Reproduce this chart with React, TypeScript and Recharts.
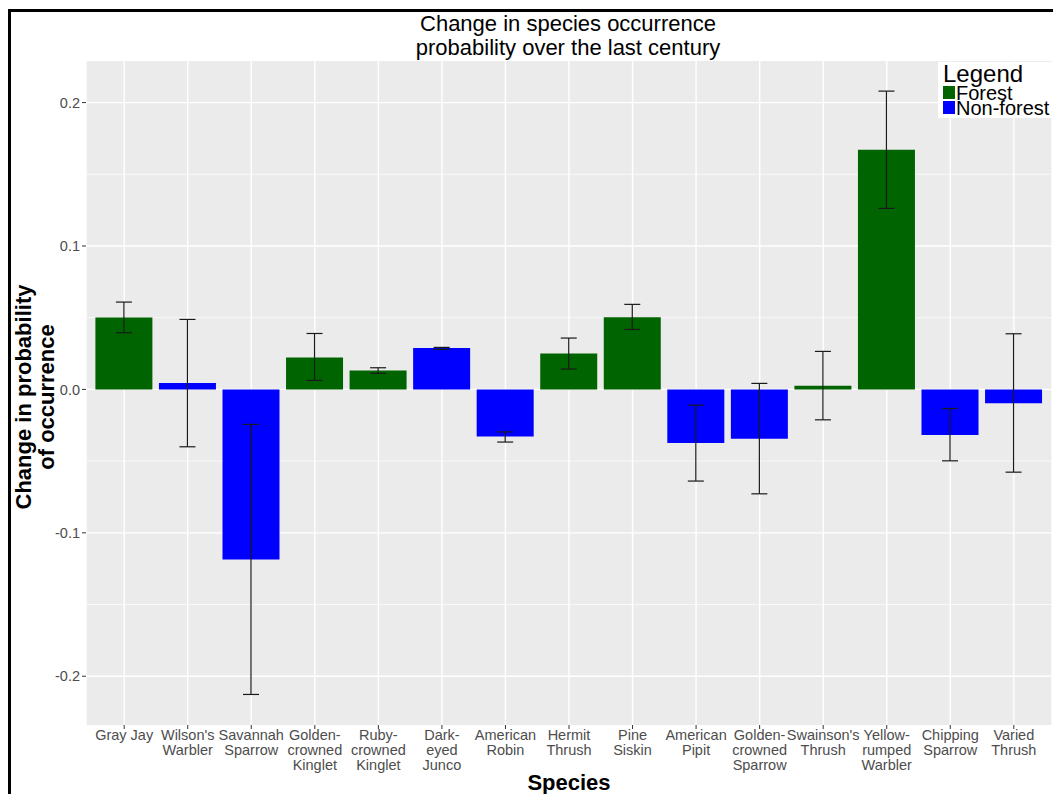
import { BarChart, Bar, XAxis, YAxis, CartesianGrid, ErrorBar, Cell, Legend } from 'recharts';

const FONT = '"Liberation Sans", Arial, Helvetica, sans-serif';

const species = [
  'Gray Jay',
  "Wilson's\nWarbler",
  'Savannah\nSparrow',
  'Golden-\ncrowned\nKinglet',
  'Ruby-\ncrowned\nKinglet',
  'Dark-\neyed\nJunco',
  'American\nRobin',
  'Hermit\nThrush',
  'Pine\nSiskin',
  'American\nPipit',
  'Golden-\ncrowned\nSparrow',
  "Swainson's\nThrush",
  'Yellow-\nrumped\nWarbler',
  'Chipping\nSparrow',
  'Varied\nThrush',
];

const habitat = [
  'Forest', 'Non-forest', 'Non-forest', 'Forest', 'Forest', 'Non-forest', 'Non-forest', 'Forest',
  'Forest', 'Non-forest', 'Non-forest', 'Forest', 'Forest', 'Non-forest', 'Non-forest',
];

// mean change and the lower / upper ends of each interval
const change = [0.0502, 0.0044, -0.1186, 0.0223, 0.0132, 0.0288, -0.0328, 0.0251, 0.0504, -0.0374, -0.0344, 0.0025, 0.1671, -0.0317, -0.0096];
const lower = [0.0395, -0.04, -0.2127, 0.0063, 0.0112, 0.0279, -0.0367, 0.0142, 0.0418, -0.0639, -0.0728, -0.0212, 0.1262, -0.0498, -0.0577];
const upper = [0.0609, 0.0488, -0.0244, 0.039, 0.0151, 0.0293, -0.0296, 0.0358, 0.0593, -0.011, 0.0042, 0.0265, 0.208, -0.0133, 0.0388];

const habitats = ['Forest', 'Non-forest'];
const habitatColors: Record<string, string> = { Forest: '#006400', 'Non-forest': '#0000FF' };

const yTicks = [-0.2, -0.1, 0, 0.1, 0.2];
const yMinor = [-0.15, -0.05, 0.05, 0.15];

const rows = species.map((name, i) => ({
  name,
  value: change[i],
  err: [change[i] - lower[i], upper[i] - change[i]],
  habitat: habitat[i],
}));

function SpeciesTick({ x, y, payload }: any) {
  const lines = String(payload.value).split('\n');
  return (
    <text x={x} y={y} textAnchor="middle" fill="#4D4D4D" fontSize={14.5} fontFamily={FONT}>
      {lines.map((line, i) => (
        <tspan key={i} x={x} dy={i === 0 ? 9 : 15}>
          {line}
        </tspan>
      ))}
    </text>
  );
}

function HabitatLegend() {
  return (
    <svg width={115} height={56} style={{ display: 'block' }}>
      <rect x={0} y={0} width={115} height={56} fill="#FFFFFF" />
      <text x={5} y={20} fontSize={24} fontFamily={FONT} fill="#000">Legend</text>
      {habitats.map((h, i) => (
        <g key={h}>
          <rect x={5} y={24 + i * 15} width={12} height={13} fill={habitatColors[h]} />
          <text x={18} y={38 + i * 14.5} fontSize={20} fontFamily={FONT} fill="#000">{h}</text>
        </g>
      ))}
    </svg>
  );
}

export default function App() {
  return (
    <div style={{ position: 'absolute', left: 0, top: 0, width: 1053, height: 794, overflow: 'hidden', background: '#fff' }}>
      <div style={{ position: 'absolute', left: 0, top: 0 }}>
        <BarChart width={1053} height={794} data={rows} margin={{ top: 61, right: 1, bottom: 9, left: 36 }}>
          <CartesianGrid fill="#EBEBEB" stroke="#FFFFFF" strokeWidth={1.4} horizontalValues={yTicks} />
          <CartesianGrid stroke="#FFFFFF" strokeWidth={0.7} vertical={false} horizontalValues={yMinor} />
          <XAxis
            dataKey="name"
            height={60}
            interval={0}
            padding={{ left: 6.4, right: 6.4 }}
            axisLine={false}
            tickSize={4}
            tickMargin={2}
            tickLine={{ stroke: '#333333' }}
            tick={<SpeciesTick />}
          />
          <YAxis
            width={50}
            domain={[-0.234, 0.229]}
            allowDataOverflow
            ticks={yTicks}
            tickFormatter={(v: number) => v.toFixed(1)}
            axisLine={false}
            tickSize={4}
            tickMargin={2}
            tickLine={{ stroke: '#333333' }}
            tick={{ fill: '#4D4D4D', fontSize: 14.5, fontFamily: FONT }}
          />
          <Legend
            layout="vertical"
            align="center"
            verticalAlign="middle"
            content={<HabitatLegend />}
            wrapperStyle={{ position: 'absolute', left: 938, top: 62, width: 115, height: 56 }}
          />
          <Bar dataKey="value" barSize={57} isAnimationActive={false}>
            {rows.map((r, i) => (
              <Cell key={`cell-${i}`} fill={habitatColors[r.habitat]} />
            ))}
            <ErrorBar dataKey="err" direction="y" width={8} stroke="#1A1A1A" strokeWidth={1.2} isAnimationActive={false} />
          </Bar>
        </BarChart>
      </div>
      <svg width={1053} height={794} style={{ position: 'absolute', left: 0, top: 0, pointerEvents: 'none' }}>
        <rect x={8} y={9} width={1045} height={3} fill="#000" />
        <rect x={8} y={9} width={3} height={785} fill="#000" />
        <text x={568} y={31} textAnchor="middle" fontSize={22} fontFamily={FONT} fill="#000">
          Change in species occurrence
        </text>
        <text x={568} y={55} textAnchor="middle" fontSize={22} fontFamily={FONT} fill="#000">
          probability over the last century
        </text>
        <text x={31} y={397} transform="rotate(-90, 31, 397)" textAnchor="middle" fontSize={22} fontWeight="bold" fontFamily={FONT} fill="#000">
          Change in probability
        </text>
        <text x={54} y={397} transform="rotate(-90, 54, 397)" textAnchor="middle" fontSize={22} fontWeight="bold" fontFamily={FONT} fill="#000">
          of occurrence
        </text>
        <text x={569} y={790} textAnchor="middle" fontSize={22} fontWeight="bold" fontFamily={FONT} fill="#000">
          Species
        </text>
      </svg>
    </div>
  );
}
